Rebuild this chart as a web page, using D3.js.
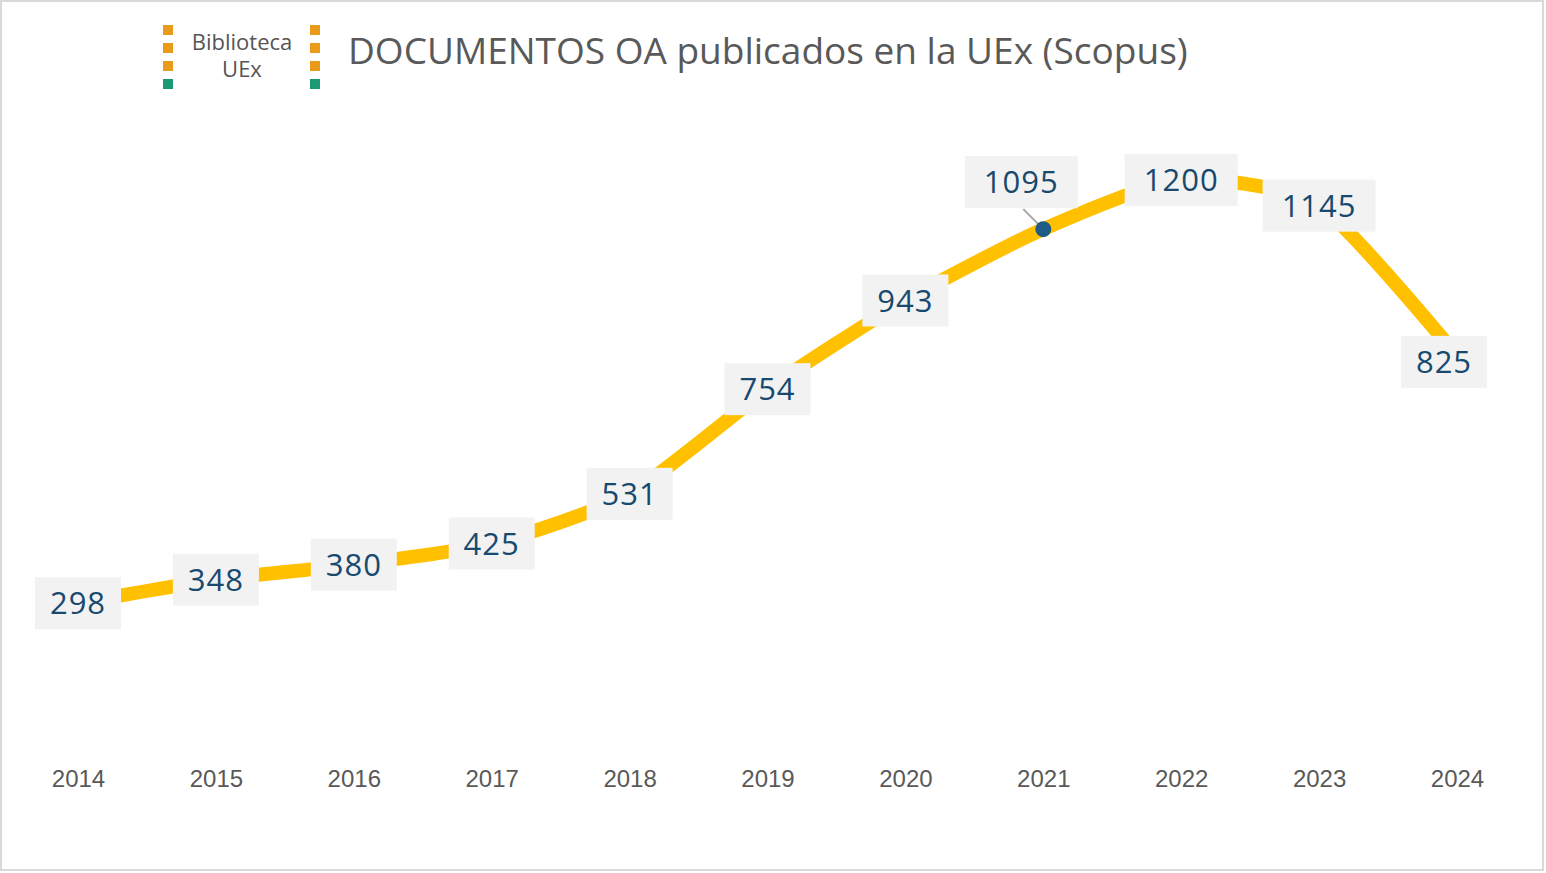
<!DOCTYPE html>
<html>
<head>
<meta charset="utf-8">
<script src="https://cdn.jsdelivr.net/npm/d3@7"></script>
<style>
  body { margin: 0; background: #fff; }
</style>
</head>
<body>
<div id="chart"></div>
<script>
var years = ["2014", "2015", "2016", "2017", "2018", "2019", "2020", "2021", "2022", "2023", "2024"];
var docs = [298, 348, 380, 425, 531, 754, 943, 1095, 1200, 1145, 825];
var titleText = "DOCUMENTOS OA publicados en la UEx (Scopus)";
var logoLines = ["Biblioteca", "UEx"];

var width = 1546;
var height = 873;

var svg = d3.select("#chart").append("svg")
    .attr("width", width)
    .attr("height", height);

// chart frame
svg.append("rect")
    .attr("x", 1).attr("y", 1)
    .attr("width", width - 4).attr("height", height - 4)
    .attr("fill", "#fff")
    .attr("stroke", "#d9d9d9")
    .attr("stroke-width", 2);

// logo
var logo = svg.append("g");
[168, 315].forEach(function(cx) {
    [0, 1, 2, 3].forEach(function(i) {
        logo.append("rect")
            .attr("x", cx - 5).attr("y", 25 + i * 18)
            .attr("width", 10).attr("height", 10)
            .attr("fill", i < 3 ? "#e89c1a" : "#1a9a72");
    });
});
logo.selectAll("text.logo")
    .data(logoLines)
    .enter().append("text")
    .attr("class", "logo")
    .attr("x", 242)
    .attr("y", (d, i) => 50 + i * 27)
    .attr("text-anchor", "middle")
    .style("font-family", "'Open Sans', sans-serif")
    .style("font-size", "22px")
    .style("fill", "#555")
    .text(d => d);

svg.append("text")
    .attr("x", 348)
    .attr("y", 64)
    .style("font-family", "'Open Sans', sans-serif")
    .style("font-size", "37px")
    .style("fill", "#595959")
    .text(titleText);

var x = d3.scalePoint()
    .domain(years)
    .range([78, 1457]);

var y = d3.scaleLinear()
    .domain([0, 1400])
    .range([743, 86]);

var xAxis = svg.append("g")
    .attr("transform", "translate(0,779)")
    .call(d3.axisBottom(x).tickSize(0).tickPadding(0));
xAxis.select(".domain").remove();
xAxis.selectAll("text")
    .style("font-family", "'Liberation Sans', Arial, sans-serif")
    .style("font-size", "24px")
    .style("fill", "#595959")
    .attr("dy", "0.35em");

var pts = years.map((yr, i) => ({ year: yr, value: docs[i] }));

var line = d3.line()
    .x(d => x(d.year))
    .y(d => y(d.value))
    .curve(d3.curveCardinal.tension(0.35));

svg.append("path")
    .datum(pts)
    .attr("d", line)
    .attr("fill", "none")
    .attr("stroke", "#ffc000")
    .attr("stroke-width", 14)
    .attr("stroke-linejoin", "round");

// offset label for 2021 with leader line and marker
var special = "2021";
var sp = pts.find(d => d.year === special);
svg.append("line")
    .attr("x1", x(special) - 20).attr("y1", y(sp.value) - 20)
    .attr("x2", x(special)).attr("y2", y(sp.value))
    .attr("stroke", "#a6a6a6")
    .attr("stroke-width", 2);
svg.append("circle")
    .attr("cx", x(special)).attr("cy", y(sp.value))
    .attr("r", 8)
    .attr("fill", "#1f5c85");

var boxW = d => String(d.value).length * 27 + 5;
var rightLimit = 1487;

var labels = svg.selectAll(".lbl")
    .data(pts)
    .enter().append("g")
    .attr("class", "lbl")
    .attr("transform", d => {
        var cx = x(d.year), cy = y(d.value);
        if (d.year === special) { cx -= 22; cy -= 47; }
        // keep label inside plot area (Excel nudges the last one in)
        if (cx + boxW(d) / 2 > rightLimit) { cx = rightLimit - boxW(d) / 2; cy += 6; }
        return `translate(${cx},${cy})`;
    });

labels.append("rect")
    .attr("x", d => -boxW(d) / 2)
    .attr("y", -26)
    .attr("width", boxW)
    .attr("height", 52)
    .attr("fill", "#f2f2f2");

labels.append("text")
    .attr("text-anchor", "middle")
    .attr("dy", "0.36em")
    .style("font-family", "'Open Sans', sans-serif")
    .style("font-size", "31px")
    .style("letter-spacing", "1px")
    .style("fill", "#174a6e")
    .text(d => d.value);
</script>
</body>
</html>
